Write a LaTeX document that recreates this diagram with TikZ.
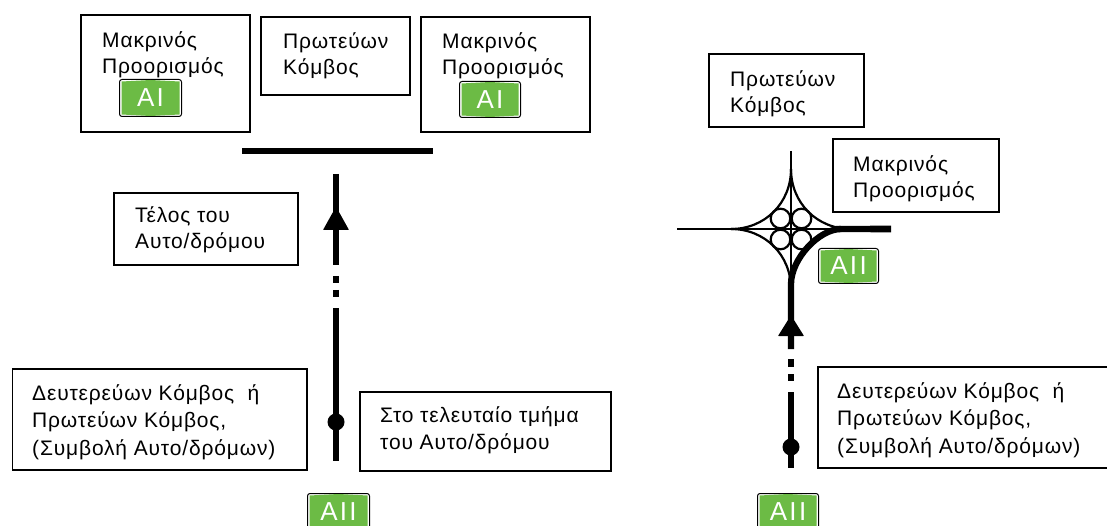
\documentclass[tikz,border=0pt]{standalone}
\usepackage{fontspec}
\setmainfont[LetterSpace=4]{Liberation Sans}
\definecolor{signgreen}{RGB}{108,187,69}
\tikzset{
 txt/.style={anchor=base west,align=left,inner sep=0pt,font=\fontsize{21}{26.5}\selectfont},
 txtb/.style={anchor=base west,align=left,inner sep=0pt,font=\fontsize{21}{27.5}\selectfont},
 road/.style={line width=6.8pt},
 thin road/.style={line width=2.2pt},
 sign/.style={draw=black,line width=1pt,fill=white,rounded corners=2.5pt,minimum width=#1pt,inner sep=0pt,anchor=north west},
 head/.style={fill=black,draw=none,rounded corners=.6pt},
}
\newcommand{\boxat}[5]{\draw[line width=1.6pt,fill=white] (#2,#3) rectangle (#4,#5) coordinate (#1);}
\newcommand{\signat}[6]{%
 \node[sign=#4,minimum height=#5 pt] (#1) at (#2,#3) {};
 \fill[signgreen] ([shift={(2.5,2.5)}]#1.north west) -- ([yshift=-1pt]#1.north) -- ([shift={(-2.5,2.5)}]#1.north east) -- ([shift={(-2.5,-2.5)}]#1.south east) -- ([yshift=1pt]#1.south) -- ([shift={(2.5,-2.5)}]#1.south west) -- cycle;
 \node[font=\fontsize{26}{26}\selectfont\addfontfeature{LetterSpace=9},text=white,inner sep=0pt] at (#1.center) {#6};}
\begin{document}
\begin{tikzpicture}[x=1pt,y=-1pt]
\useasboundingbox (0,0) rectangle (1107,526);
\boxat{b1}{81}{15}{250}{132}
\boxat{b2}{261}{17}{410}{95}
\boxat{b3}{421}{17}{590}{132}
\boxat{b4}{114}{193}{298}{265}
\boxat{b5}{12.5}{369}{307}{470}
\boxat{b6}{360}{392}{611}{471}
\node[txt] (t1) at (102,74) {Μακρινός\\Προορισμός};
\node[txt] (t2) at (283,75) {Πρωτεύων\\Κόμβος};
\node[txt] (t3) at (442,75) {Μακρινός\\Προορισμός};
\node[txt] (t4) at (135,249) {Τέλος του\\Αυτο/δρόμου};
\node[txtb] (t5) at (32,455) {Δευτερεύων Κόμβος \ ή\\Πρωτεύων Κόμβος,\\(Συμβολή Αυτο/δρόμων)};
\node[txt] (t6) at (380,449) {Στο τελευταίο τμήμα\\του Αυτο/δρόμου};
\signat{s1}{119}{79}{62}{37}{AI}
\signat{s2}{459}{81}{61}{36}{AI}
\signat{s3}{307}{493}{62}{36}{AII}
\coordinate (bl) at (242,151); \coordinate (br) at (433,151);
\draw[line width=6.5pt] (bl) -- (br);
\coordinate (la) at (336,174); \coordinate (lb) at (336,265);
\coordinate (ld1) at (336,276); \coordinate (ld2) at (336,283);
\coordinate (ld3) at (336,290); \coordinate (ld4) at (336,297);
\coordinate (lc) at (336,308); \coordinate (le) at (336,461);
\draw[road] (la) -- (lb);
\draw[road] (ld1) -- (ld2);
\draw[road] (ld3) -- (ld4);
\draw[road] (lc) -- (le);
\fill[head] (333,212) -- (339,212) -- (349,230) -- (323,230) -- cycle;
\fill (336,422) circle (8.5);
\boxat{b7}{709}{54}{864}{127}
\boxat{b8}{833}{139}{999}{212}
\draw[line width=1.6pt] (1108,367) -- (818,367) -- (818,468) -- (1108,468);
\node[txt] (t7) at (730,113) {Πρωτεύων\\Κόμβος};
\node[txt] (t8) at (853,198) {Μακρινός\\Προορισμός};
\node[txtb] (t9) at (837,453) {Δευτερεύων Κόμβος \ ή\\Πρωτεύων Κόμβος,\\(Συμβολή Αυτο/δρόμων)};
\signat{s4}{818}{248}{60}{35}{AII}
\signat{s5}{757}{493}{61}{36}{AII}
\coordinate (o) at (791,229);
\begin{scope}[shift={(o)}]
 \draw[thin road] (-114,0) -- (56,0);
 \draw[thin road] (0,-78) -- (0,56);
 \draw[thin road] (0,-60) .. controls (0,-26) and (-26,0) .. (-60,0);
 \draw[thin road] (0,-60) .. controls (0,-26) and (26,0) .. (60,0);
 \draw[thin road] (0,60) .. controls (0,26) and (-26,0) .. (-60,0);
 \foreach \a/\b in {-10.5/-10.5,10.5/-10.5,-10.5/10.5,10.5/10.5}
  \draw[thin road] (\a,\b) circle (9.8);
 \draw[line width=6.3pt] (0,120) -- (0,55) .. controls (0,30) and (28,0) .. (50,0);
 \fill (100,-3.4) -- (45,-3) -- (45,3) -- (100,3.4) -- cycle;
\end{scope}
\coordinate (rb) at (791,348);
\draw[road] (791,336) -- (rb);
\fill[head] (788,320) -- (794,320) -- (804,336) -- (778,336) -- cycle;
\draw[road] (791,359) -- (791,367);
\draw[road] (791,374) -- (791,381);
\draw[road] (791,392) -- (791,468);
\fill (791,447) circle (8.5);
\end{tikzpicture}
\end{document}
